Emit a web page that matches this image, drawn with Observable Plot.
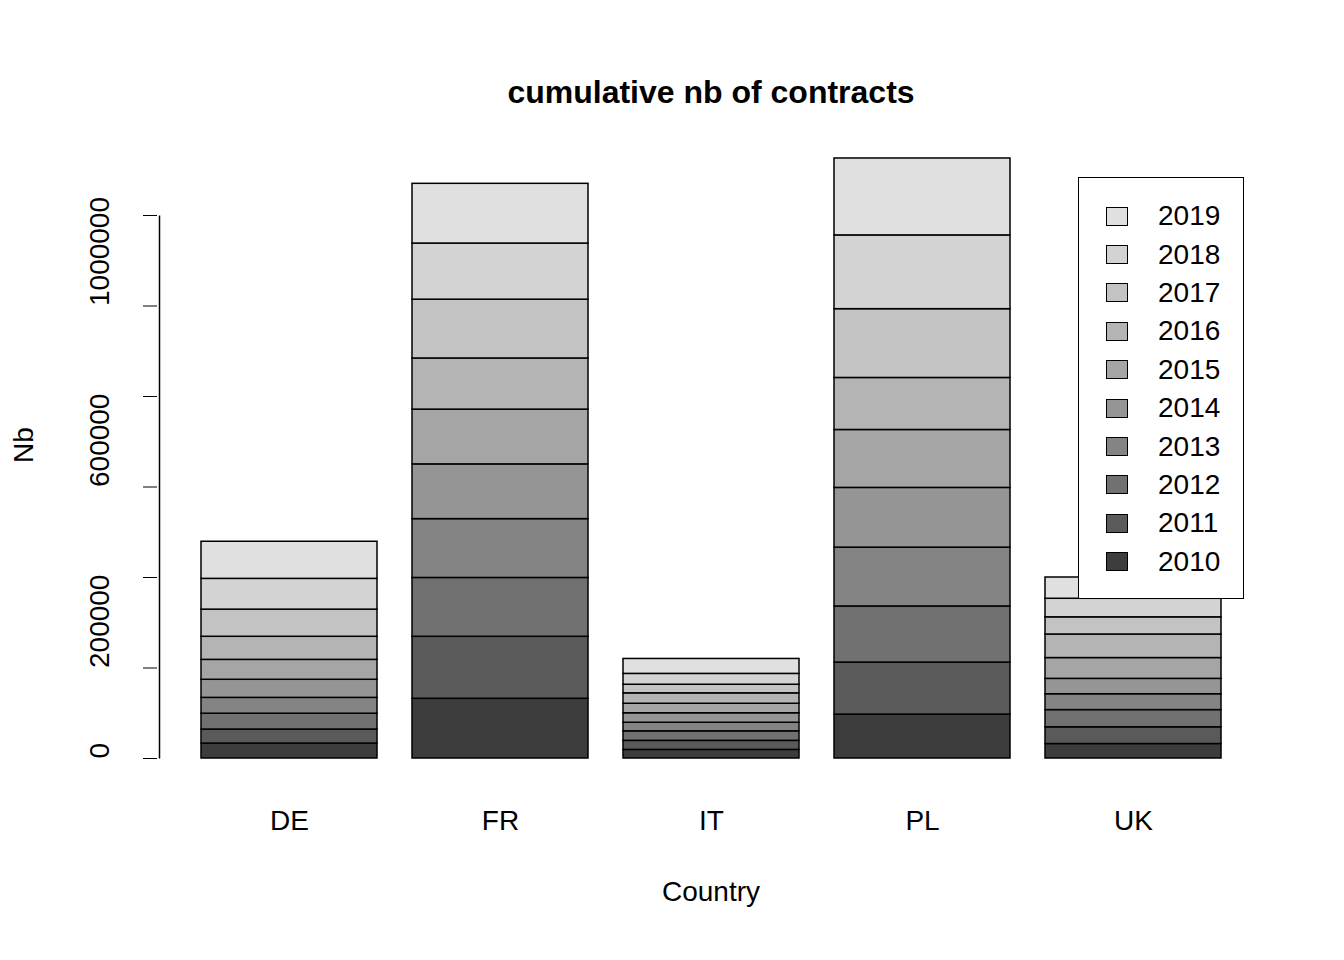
<!DOCTYPE html>
<html><head><meta charset="utf-8">
<script src="https://cdn.jsdelivr.net/npm/d3@7"></script>
<script src="https://cdn.jsdelivr.net/npm/@observablehq/plot@0.6"></script>
<style>
body{margin:0;background:#fff;font-family:"Liberation Sans",Arial,sans-serif}
#wrap{position:relative;width:1344px;height:960px}
#legend{position:absolute;left:1078px;top:177px;width:166px;height:422px;border:1.5px solid #000;background:#fff;box-sizing:border-box;padding-top:19px}
.row{display:flex;align-items:center;height:38.4px;font-size:28px}
.sw{width:22px;height:19px;border:1.5px solid #000;margin-left:27px;margin-right:30px;box-sizing:border-box}
</style></head><body>
<div id="wrap"><div id="graph"></div><div id="legend"></div></div>
<script>
const countries = ["DE", "FR", "IT", "PL", "UK"];
const years = [2010, 2011, 2012, 2013, 2014, 2015, 2016, 2017, 2018, 2019];
const colors = ["#3d3d3d","#5a5a5a","#717171","#848484","#959595","#a5a5a5","#b4b4b4","#c3c3c3","#d3d3d3","#e0e0e0"];
// contracts per year (2010..2019) for each country
const DE = [33000, 31000, 35000, 35000, 40000, 44000, 51000, 60000, 68000, 82000];
const FR = [132000, 137000, 130000, 130000, 121000, 121000, 113000, 130000, 124000, 132000];
const IT = [19000, 20000, 21000, 19000, 21000, 21000, 23000, 19000, 24000, 33000];
const PL = [97000, 115000, 124000, 130000, 132000, 128000, 115000, 152000, 163000, 170000];
const UK = [32000, 37000, 38000, 35000, 34000, 46000, 52000, 38000, 41000, 47000];
const series = {DE, FR, IT, PL, UK};

const rows = countries.flatMap(c => years.map((y, i) => ({country: c, year: y, nb: series[c][i]})));
const ticks = [0, 200000, 400000, 600000, 800000, 1000000, 1200000];
const tickLabels = [0, 200000, 600000, 1000000];

const plot = Plot.plot({
  width: 1344, height: 960,
  marginLeft: 163, marginRight: 86, marginTop: 215, marginBottom: 202,
  style: {fontFamily: "Liberation Sans, Arial, sans-serif", fontSize: "28px", overflow: "visible"},
  x: {domain: countries, paddingInner: 0.1667, paddingOuter: 0.17, label: null},
  y: {domain: [0, 1200000], label: null},
  color: {domain: years, range: colors},
  marks: [
    Plot.barY(rows, Plot.stackY({x: "country", y: "nb", fill: "year", order: years, stroke: "#000", strokeWidth: 1.5, inset: 0})),
    Plot.axisX({tickSize: 0, tickPadding: 52, fontSize: 28, label: null}),
    Plot.axisY({ticks, tickSize: 14, dx: -6, tickFormat: () => "", label: null}),
    // y-axis line, offset left from the first band centre
    Plot.link([0], {x1: () => "DE", x2: () => "DE", y1: () => 0, y2: () => 1200000, dx: -130, stroke: "#000", strokeWidth: 1.5}),
    Plot.text(tickLabels, {y: d => d, text: d => String(d), frameAnchor: "left", dx: -63, rotate: -90, fontSize: 28, fill: "#000"}),
    Plot.text(["cumulative nb of contracts"], {frameAnchor: "top", dy: -135, fontSize: 32, fontWeight: "bold", fill: "#000"}),
    Plot.text(["Country"], {frameAnchor: "bottom", dy: 142, fontSize: 28, fill: "#000"}),
    Plot.text(["Nb"], {frameAnchor: "left", dx: -139, dy: -24, rotate: -90, fontSize: 28, fill: "#000"})
  ]
});
d3.select("#graph").append(() => plot);

const legend = d3.select("#legend");
years.slice().reverse().forEach(y => {
  const r = legend.append("div").attr("class", "row");
  r.append("div").attr("class", "sw").style("background", colors[years.indexOf(y)]);
  r.append("span").text(y);
});
</script>
</body></html>
